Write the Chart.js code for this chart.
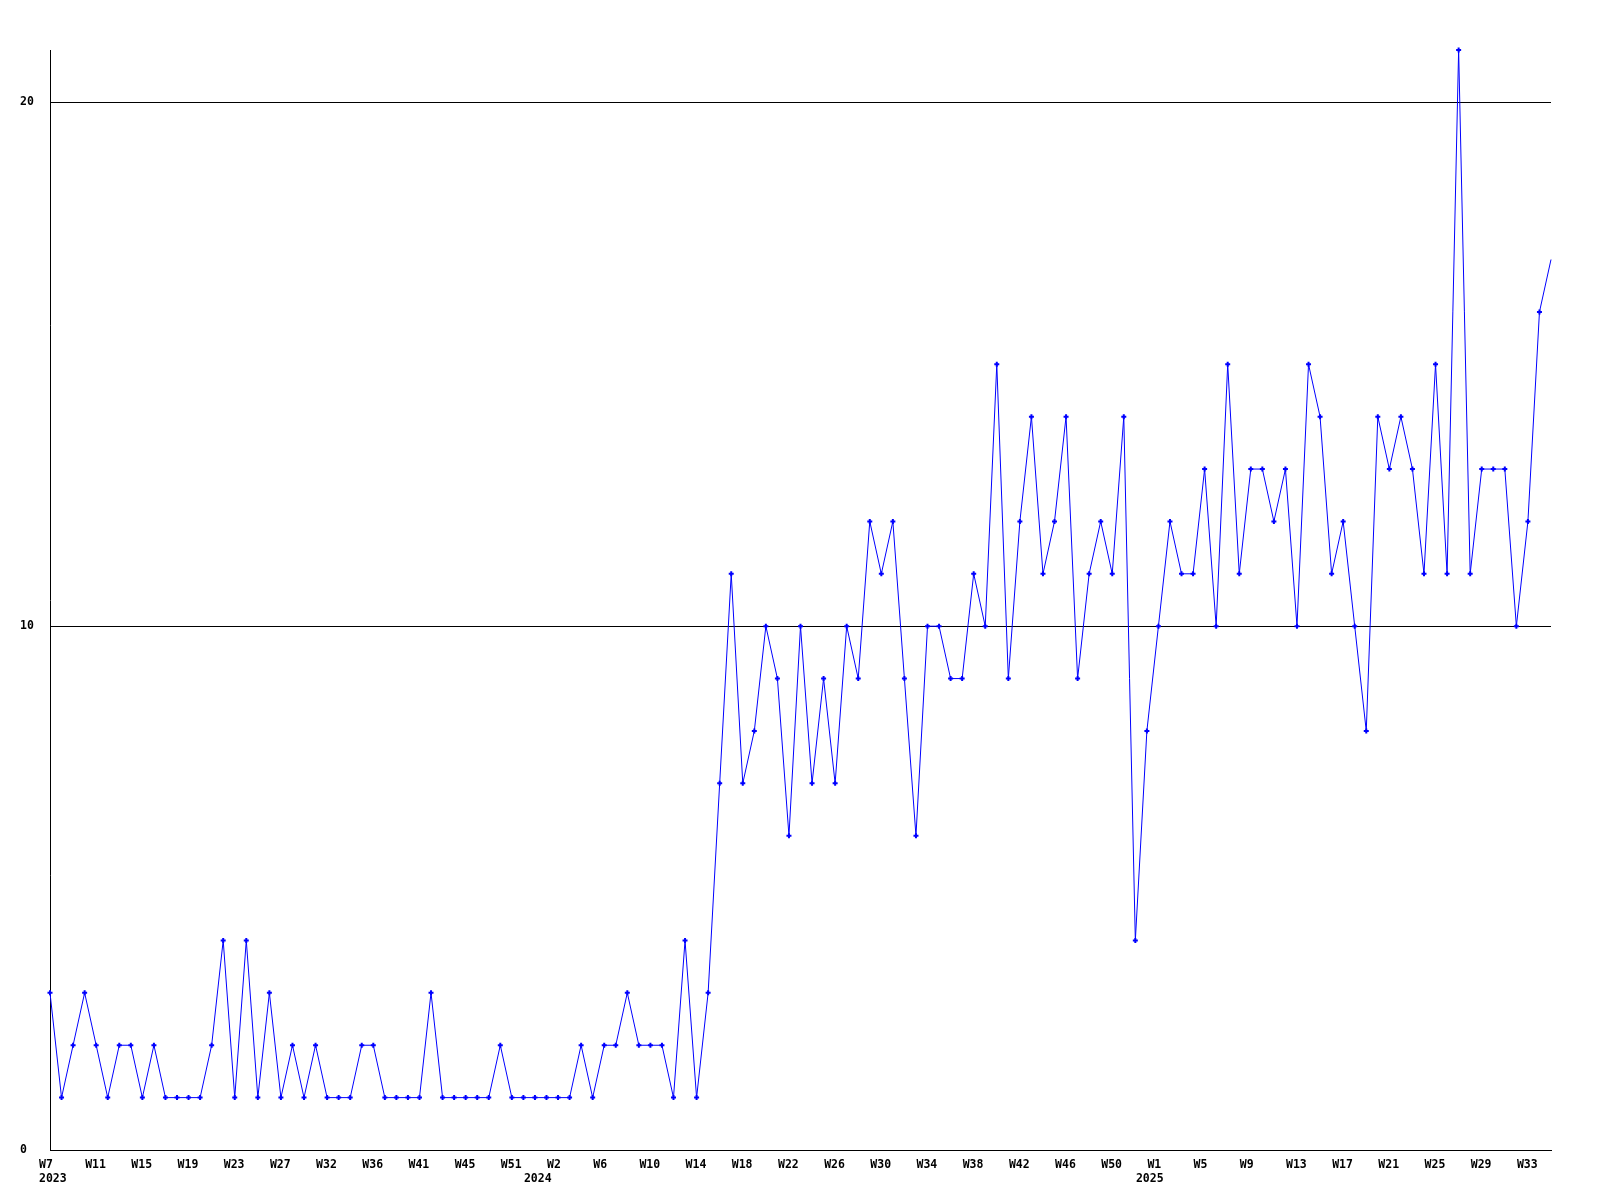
<!DOCTYPE html>
<html><head><meta charset="utf-8">
<script src="https://cdn.jsdelivr.net/npm/chart.js@4.4.1/dist/chart.umd.min.js"></script>
<style>html,body{margin:0;padding:0;background:#fff}canvas{display:block}</style>
</head><body>
<canvas id="c" width="1600" height="1200"></canvas>
<script>
// Weekly counts, one point per sample (left to right)
const values = [
  3,1,2,3,2,1,2,2,1,2,1,1,1,1,2,4,1,4,1,3,1,2,1,2,1,1,1,2,2,1,1,
  1,1,3,1,1,1,1,1,2,1,1,1,1,1,1,2,1,2,2,3,2,2,2,1,4,1,3,
  7,11,7,8,10,9,6,10,7,9,
  7,10,9,12,11,12,9,6,10,10,
  9,9,11,10,15,9,12,14,11,12,
  14,9,11,12,11,14,4,8,10,12,
  11,11,13,10,15,11,13,13,12,13,
  10,15,14,11,12,10,8,14,13,14,
  13,11,15,11,21,11,13,13,13,10,
  12,16,17
];
// x tick labels, one for every 4th sample
const tickLabels = ["W7","W11","W15","W19","W23","W27","W32","W36","W41","W45","W51",
  "W2","W6","W10","W14","W18","W22","W26","W30","W34","W38","W42","W46","W50",
  "W1","W5","W9","W13","W17","W21","W25","W29","W33"];
const tickEvery = 4;
// Year labels and the sample where each year starts
const yearLabels = ["2023","2024","2025"];
const yearStartIndex = [0, 42, 95];
const yTicks = [0, 10, 20];
const yMax = 21;

const FONT = {family: "'DejaVu Sans Mono', monospace", size: 11.5, weight: 'bold', lineHeight: 1.2};

new Chart(document.getElementById('c'), {
  type: 'line',
  data: {
    datasets: [{
      data: values.map((v, i) => ({x: i, y: v})),
      borderColor: '#0000ff',
      borderWidth: 1,
      pointStyle: 'cross',
      pointRadius: ctx => ctx.dataIndex === values.length - 1 ? 0 : 2.5,
      pointBorderWidth: 2,
      pointBorderColor: '#0000ff',
      pointBackgroundColor: '#0000ff',
      tension: 0,
      fill: false,
      clip: false,
      xAxisID: 'x',
      yAxisID: 'y'
    }]
  },
  options: {
    responsive: false,
    animation: false,
    devicePixelRatio: 1,
    events: [],
    layout: {padding: {left: 20, top: 50, right: 49, bottom: 14}},
    plugins: {legend: {display: false}, tooltip: {enabled: false}},
    scales: {
      x: {
        type: 'linear', position: 'bottom', min: 0, max: values.length - 1,
        afterBuildTicks: s => { s.ticks = tickLabels.map((_, k) => ({value: k * tickEvery})); },
        afterFit: s => { s.height = 22; },
        grid: {display: false, drawTicks: false},
        border: {display: true, color: '#000', width: 1},
        ticks: {autoSkip: false, maxRotation: 0, minRotation: 0, align: 'start', labelOffset: -11,
          padding: 8, color: '#000', font: FONT, callback: (v, i) => tickLabels[i]}
      },
      x2: {
        type: 'linear', position: 'bottom', min: 0, max: values.length - 1,
        afterBuildTicks: s => { s.ticks = yearStartIndex.map(v => ({value: v})); },
        afterFit: s => { s.height = 14; },
        grid: {display: false, drawTicks: false},
        border: {display: false},
        ticks: {autoSkip: false, maxRotation: 0, minRotation: 0, align: 'start', labelOffset: -11,
          padding: 0, color: '#000', font: FONT, callback: (v, i) => yearLabels[i]}
      },
      y: {
        type: 'linear', min: 0, max: yMax,
        afterBuildTicks: s => { s.ticks = yTicks.map(v => ({value: v})); },
        afterFit: s => { s.width = 30; },
        grid: {color: '#000', lineWidth: 1, drawTicks: false},
        border: {display: true, color: '#000', width: 1},
        ticks: {crossAlign: 'far', padding: 0, color: '#000', font: FONT}
      }
    }
  }
});
</script></body></html>
